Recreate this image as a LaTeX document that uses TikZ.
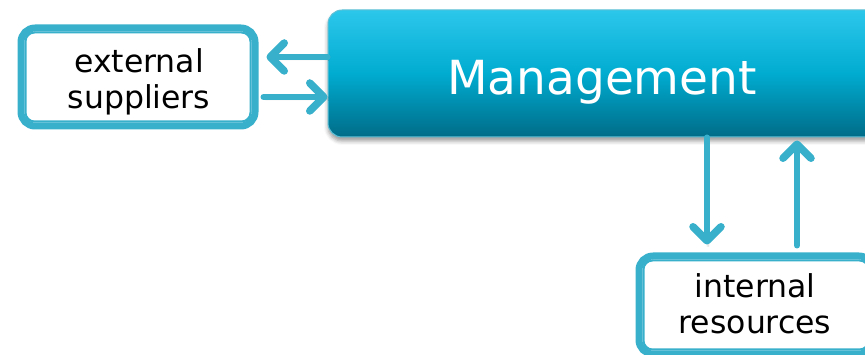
\documentclass[tikz,border=0pt]{standalone}
\usepackage{fontspec}
\setmainfont{DejaVu Sans}
\usetikzlibrary{arrows.meta,calc,shadows.blur}
\definecolor{teal1}{RGB}{56,176,204}
\definecolor{mtop}{RGB}{44,199,235}
\definecolor{mmid}{RGB}{0,172,208}
\definecolor{mbot}{RGB}{0,108,136}
\begin{document}
\begin{tikzpicture}[x=1pt,y=-1pt,
  framebox/.style={draw=teal1, line width=7pt, rounded corners=14pt,
    minimum width=234pt, minimum height=98pt, inner sep=0pt, fill=white},
  innerline/.style={draw=teal1, line width=2pt, rounded corners=9pt},
  boxtext/.style={font=\fontsize{31.5}{36}\selectfont, align=center,
    text=black, inner sep=0pt},
  mgmtbox/.style={rounded corners=14pt, minimum width=552pt,
    minimum height=127pt, inner sep=0pt,
    top color=mtop, bottom color=mbot, middle color=mmid,
    draw=teal1!80, line width=1pt,
    blur shadow={shadow xshift=0pt, shadow yshift=-4pt,
      shadow blur radius=4pt, shadow opacity=40}},
  mgmttext/.style={font=\fontsize{47}{56}\selectfont, text=white, inner sep=0pt},
  arr/.style={draw=teal1, line width=6pt, line cap=round,
    -{Straight Barb[length=14pt,width=28pt,round,line width=7.5pt]},
    blur shadow={shadow xshift=1pt, shadow yshift=-2pt,
      shadow blur radius=2pt, shadow opacity=20}}
]
\useasboundingbox (0,0) rectangle (865,355);
\clip (0,0) rectangle (865,355);

% central block
\node[mgmtbox] (mgmt) at (604,73.5) {};
\node[mgmttext, anchor=base] (mgmtlabel) at (602,95) {Management};

% framed boxes
\node[framebox] (ext) at (138,77) {};
\draw[innerline] ([shift={(8,8)}]ext.north west) rectangle ([shift={(-8,-8)}]ext.south east);
\node[boxtext] (exttext) at (139,82) {external\\suppliers};

\node[framebox] (int) at (756,305) {};
\draw[innerline] ([shift={(8,8)}]int.north west) rectangle ([shift={(-8,-8)}]int.south east);
\node[boxtext] (inttext) at (755,304) {internal\\resources};

% connectors
\draw[arr] ($(mgmt.west)+(0,-16.5)$) -- ($(ext.east)+(8,-20)$);
\draw[arr] ($(ext.east)+(5,20)$) -- ($(mgmt.west)+(0,23.5)$);
\draw[arr] ($(mgmt.south)+(103,0)$) -- ($(int.north)+(-49,-8)$);
\draw[arr] ($(int.north)+(41,-7)$) -- ($(mgmt.south)+(193,3)$);
\end{tikzpicture}
\end{document}
